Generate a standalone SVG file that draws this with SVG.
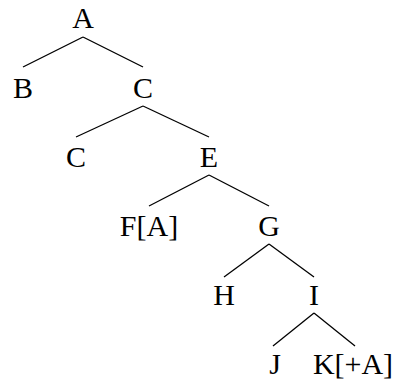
<svg xmlns="http://www.w3.org/2000/svg" width="396" height="381" viewBox="0 0 396 381">
<style>
text{font-family:"Liberation Serif","Times New Roman",serif;font-size:30px;fill:#000;text-anchor:middle}
line{stroke:#000;stroke-width:1.3}
</style>
<rect width="396" height="381" fill="#fff"/>
<g id="connectors">
<line x1="83" y1="37" x2="23" y2="67"/>
<line x1="83" y1="37" x2="143" y2="67"/>
<line x1="143" y1="106" x2="76" y2="137"/>
<line x1="143" y1="106" x2="209" y2="137"/>
<line x1="209" y1="175" x2="149" y2="206"/>
<line x1="209" y1="175" x2="269" y2="206"/>
<line x1="269" y1="244" x2="224" y2="277"/>
<line x1="269" y1="244" x2="314" y2="277"/>
<line x1="314" y1="313" x2="273" y2="346"/>
<line x1="314" y1="313" x2="355" y2="346"/>
</g>
<g id="nA"><text x="83" y="28">A</text></g>
<g id="nB"><text x="23" y="98">B</text></g>
<g id="nC1"><text x="143" y="98">C</text></g>
<g id="nC2"><text x="76" y="167">C</text></g>
<g id="nE"><text x="209" y="167">E</text></g>
<g id="nF"><text x="149" y="236">F[A]</text></g>
<g id="nG"><text x="269" y="236">G</text></g>
<g id="nH"><text x="224" y="305">H</text></g>
<g id="nI"><text x="314" y="305">I</text></g>
<g id="nJ"><text x="275" y="374">J</text></g>
<g id="nK"><text x="353" y="374">K[+A]</text></g>
</svg>
